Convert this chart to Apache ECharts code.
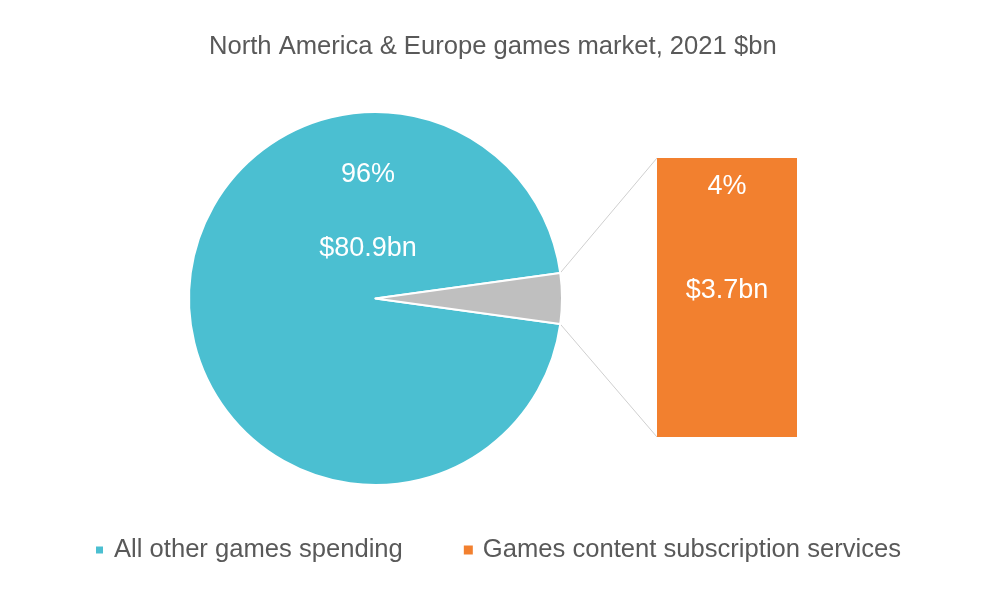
<!DOCTYPE html>
<html>
<head>
<meta charset="utf-8">
<title>North America & Europe games market, 2021</title>
<script src="https://cdn.jsdelivr.net/npm/echarts@6/dist/echarts.min.js"></script>
<style>
	html, body { margin: 0; padding: 0; background: #fff; }
	#chart { width: 998px; height: 600px; }
</style>
</head>
<body>
<div id="chart"></div>
<script>
// market split, $bn
const categories = ['All other games spending', 'Games content subscription services']
const values = [80.9, 3.7]
const shares = ['96%', '4%']
const colors = ['#4bbfd1', '#f2802f']
const sliceGray = '#bfbfbf'

const total = values[0] + values[1]
const cx = 375.5
const cy = 298.5
const radius = 186.5
const halfAngle = 180 * values[1] / total // degrees

const chartDom = document.getElementById('chart')
const myChart = echarts.init(chartDom)

const font = "'Liberation Sans', Arial, sans-serif"

const option = {
	animation: false,
	textStyle: { fontFamily: font },
	title: {
		text: 'North America & Europe games market, 2021 $bn',
		left: 204,
		top: 29,
		textStyle: { fontSize: 25.6, fontWeight: 'normal', color: '#595959', fontFamily: font },
	},
	legend: {
		left: 89,
		top: 532,
		icon: 'rect',
		itemWidth: 9,
		itemHeight: 9,
		itemGap: 61,
		textStyle: { fontSize: 25.6, color: '#595959', fontFamily: font, padding: [0, 0, 0, 5] },
		data: categories.map((name, i) => ({ name, itemStyle: { color: colors[i] } })),
	},
	grid: { left: 657, top: 158, width: 140, height: 279 },
	xAxis: { type: 'category', data: [categories[1]], show: false },
	yAxis: { type: 'value', min: 0, max: values[1], show: false },
	series: [
		{
			type: 'pie',
			center: [cx, cy],
			radius: radius,
			startAngle: -halfAngle,
			clockwise: true,
			legendHoverLink: false,
			itemStyle: { borderColor: '#fff', borderWidth: 2 },
			label: {
				show: true,
				position: 'center',
				color: '#fff',
				fontSize: 27,
				lineHeight: 74,
				fontFamily: font,
				formatter: p => p.dataIndex === 0 ? shares[0] + '\n$' + values[0] + 'bn' : '',
			},
			labelLine: { show: false },
			labelLayout: p => p.dataIndex === 0 ? { x: 368, y: 212 } : {},
			data: [
				{ name: categories[0], value: values[0], itemStyle: { color: colors[0] } },
				{ name: 'subscription-slice', value: values[1], itemStyle: { color: sliceGray }, label: { show: false } },
			],
		},
		{
			type: 'bar',
			name: categories[1],
			data: [values[1]],
			barWidth: '100%',
			itemStyle: { color: colors[1] },
			label: {
				show: true,
				position: 'inside',
				offset: [0, -59],
				color: '#fff',
				fontSize: 27,
				lineHeight: 104,
				fontFamily: font,
				formatter: () => shares[1] + '\n$' + values[1] + 'bn',
			},
		},
	],
}

myChart.setOption(option)

// connector lines from the small slice to the bar corners
const rad = halfAngle * Math.PI / 180
const topPt = myChart.convertToPixel({ seriesIndex: 1 }, [0, values[1]])
const botPt = myChart.convertToPixel({ seriesIndex: 1 }, [0, 0])
const barLeft = 657
const lineStyle = { stroke: '#cfcfcf', lineWidth: 1 }

myChart.setOption({
	graphic: [
		{
			type: 'line',
			z: 0,
			shape: { x1: cx + radius * Math.cos(rad), y1: cy - radius * Math.sin(rad), x2: barLeft, y2: topPt[1] },
			style: lineStyle,
		},
		{
			type: 'line',
			z: 0,
			shape: { x1: cx + radius * Math.cos(rad), y1: cy + radius * Math.sin(rad), x2: barLeft, y2: botPt[1] },
			style: lineStyle,
		},
	],
})
</script>
</body>
</html>
